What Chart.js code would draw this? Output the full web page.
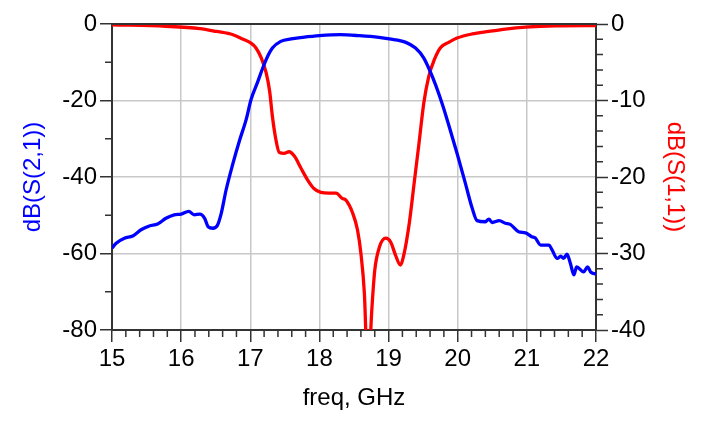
<!DOCTYPE html>
<html>
<head>
<meta charset="utf-8">
<script src="https://cdn.jsdelivr.net/npm/chart.js@4.4.1/dist/chart.umd.min.js"></script>
<style>
  html, body { margin: 0; padding: 0; background: #fff; }
  #wrap { width: 702px; height: 424px; }
</style>
</head>
<body>
<div id="wrap"><canvas id="chart"></canvas></div>
<script>
// S(2,1) in dB, read against the left axis
const freqS21 = [15.00, 15.06, 15.18, 15.30, 15.42, 15.54, 15.66, 15.78, 15.90, 16.00, 16.11, 16.19, 16.27, 16.34, 16.39, 16.46, 16.52, 16.58, 16.65, 16.75, 16.84, 16.94, 17.01, 17.11, 17.18, 17.25, 17.32, 17.44, 17.59, 17.76, 18.00, 18.30, 18.58, 18.86, 19.01, 19.25, 19.39, 19.51, 19.58, 19.68, 19.78, 19.87, 19.99, 20.11, 20.21, 20.28, 20.40, 20.45, 20.50, 20.60, 20.69, 20.76, 20.88, 20.98, 21.07, 21.12, 21.20, 21.32, 21.36, 21.44, 21.49, 21.53, 21.58, 21.63, 21.68, 21.72, 21.82, 21.88, 21.92, 22.00];
const s21 = [-58.6, -57.3, -56.0, -55.4, -53.8, -52.8, -52.3, -50.8, -49.9, -49.7, -49.0, -49.9, -49.7, -50.8, -53.0, -53.4, -52.8, -49.5, -43.4, -36.4, -30.7, -25.0, -19.8, -15.0, -11.5, -8.5, -6.3, -4.55, -3.9, -3.5, -3.06, -2.8, -3.06, -3.5, -3.9, -4.8, -6.3, -8.9, -11.5, -15.9, -21.1, -26.4, -33.8, -41.6, -48.2, -51.4, -51.7, -51.0, -51.9, -51.4, -52.1, -52.4, -54.3, -54.6, -55.6, -55.9, -57.8, -57.8, -58.9, -61.3, -60.7, -61.3, -60.2, -62.6, -65.6, -63.5, -64.8, -63.5, -64.8, -65.4];

// S(1,1) in dB, read against the right axis
const freqS11 = [15.00, 15.78, 16.27, 16.51, 16.75, 16.89, 17.01, 17.08, 17.16, 17.23, 17.28, 17.32, 17.37, 17.42, 17.49, 17.56, 17.64, 17.73, 17.83, 17.92, 18.02, 18.14, 18.24, 18.33, 18.38, 18.48, 18.55, 18.60, 18.65, 18.70, 18.76, 18.80, 18.87, 18.96, 19.03, 19.10, 19.17, 19.22, 19.30, 19.37, 19.44, 19.51, 19.58, 19.66, 19.75, 19.87, 19.99, 20.21, 20.45, 20.69, 20.98, 21.41, 22.00];
const s11 = [-0.1, -0.3, -0.6, -0.97, -1.4, -1.96, -2.5, -3.1, -4.45, -6.4, -8.8, -12.1, -15.1, -16.8, -16.9, -16.7, -17.3, -18.8, -20.4, -21.5, -22.0, -22.1, -22.1, -22.8, -23.0, -24.7, -26.9, -30.0, -35.2, -46.0, -37.0, -32.2, -29.1, -28.0, -28.5, -30.2, -31.5, -30.2, -26.0, -20.8, -15.6, -10.3, -6.9, -4.7, -3.1, -2.4, -1.84, -1.3, -0.97, -0.66, -0.4, -0.23, -0.2];

const xTicks = [15, 16, 17, 18, 19, 20, 21, 22];
const leftTicks = [0, -20, -40, -60, -80];
const rightTicks = [0, -10, -20, -30, -40];

const FONT = "'Liberation Sans', Arial, sans-serif";
const AXIS = '#333333';
const GRID = '#c8c8c8';

// short minor ticks and the top frame line
const frameAndMinorTicks = {
    id: 'frameAndMinorTicks',
    afterDraw(chart) {
        const ctx = chart.ctx;
        const area = chart.chartArea;
        const x = chart.scales.x, y = chart.scales.y, y1 = chart.scales.y1;
        ctx.save();
        ctx.strokeStyle = AXIS;
        ctx.lineWidth = 1.5;
        ctx.beginPath();
        for (let i = 0; i <= 35; i++) {
            if (i % 5 === 0) continue;
            const px = x.getPixelForValue(15 + i * 0.2);
            ctx.moveTo(px, area.bottom);
            ctx.lineTo(px, area.bottom + 7);
        }
        for (let v = -70; v < 0; v += 20) {
            const py = y.getPixelForValue(v);
            ctx.moveTo(area.left, py);
            ctx.lineTo(area.left - 7, py);
        }
        for (let v = -38; v < 0; v += 2) {
            if (v % 10 === 0) continue;
            const py = y1.getPixelForValue(v);
            ctx.moveTo(area.right, py);
            ctx.lineTo(area.right + 7, py);
        }
        ctx.stroke();
        ctx.lineWidth = 2;
        ctx.beginPath();
        ctx.moveTo(area.left, area.top);
        ctx.lineTo(area.right, area.top);
        ctx.stroke();
        ctx.restore();
    }
};

new Chart(document.getElementById('chart'), {
    type: 'line',
    data: {
        datasets: [{
            label: 'dB(S(2,1))',
            data: freqS21.map((f, i) => ({ x: f, y: s21[i] })),
            borderColor: '#0000ff',
            borderWidth: 3.3,
            pointRadius: 0,
            cubicInterpolationMode: 'monotone',
            yAxisID: 'y'
        }, {
            label: 'dB(S(1,1))',
            data: freqS11.map((f, i) => ({ x: f, y: s11[i] })),
            borderColor: '#ff0000',
            borderWidth: 3.3,
            pointRadius: 0,
            cubicInterpolationMode: 'monotone',
            yAxisID: 'y1'
        }]
    },
    options: {
        responsive: true,
        maintainAspectRatio: false,
        animation: false,
        layout: { padding: { top: 24, left: 0, right: 0, bottom: 0 } },
        plugins: { legend: { display: false }, tooltip: { enabled: false } },
        scales: {
            x: {
                type: 'linear',
                min: 15, max: 22,
                afterBuildTicks: s => { s.ticks = xTicks.map(v => ({ value: v })); },
                afterFit: s => { s.height = 94; },
                ticks: { color: '#000', font: { family: FONT, size: 24 }, padding: 3, maxRotation: 0 },
                grid: { color: GRID, lineWidth: 1.5, tickLength: 12, tickColor: AXIS, tickWidth: 1.5 },
                border: { color: AXIS, width: 2 },
                title: { display: true, text: 'freq, GHz', color: '#000', font: { family: FONT, size: 24 }, padding: { top: 0, bottom: 11 } }
            },
            y: {
                position: 'left',
                min: -80, max: 0,
                afterBuildTicks: s => { s.ticks = leftTicks.map(v => ({ value: v })); },
                afterFit: s => { s.width = 112; },
                ticks: { color: '#000', font: { family: FONT, size: 24 }, padding: 3 },
                grid: { color: GRID, lineWidth: 1.5, tickLength: 12, tickColor: AXIS, tickWidth: 1.5 },
                border: { color: AXIS, width: 2 },
                title: { display: true, text: 'dB(S(2,1))', color: '#0000ff', font: { family: FONT, size: 24 }, padding: { top: 19, bottom: 0 } }
            },
            y1: {
                position: 'right',
                min: -40, max: 0,
                afterBuildTicks: s => { s.ticks = rightTicks.map(v => ({ value: v })); },
                afterFit: s => { s.width = 106; },
                ticks: { color: '#000', font: { family: FONT, size: 24 }, padding: 3 },
                grid: { drawOnChartArea: false, tickLength: 12, tickColor: AXIS, tickWidth: 1.5 },
                border: { color: AXIS, width: 2 },
                title: { display: true, text: 'dB(S(1,1))', color: '#ff0000', font: { family: FONT, size: 24 }, padding: { top: 13, bottom: 0 } }
            }
        }
    },
    plugins: [frameAndMinorTicks]
});
</script>
</body>
</html>
